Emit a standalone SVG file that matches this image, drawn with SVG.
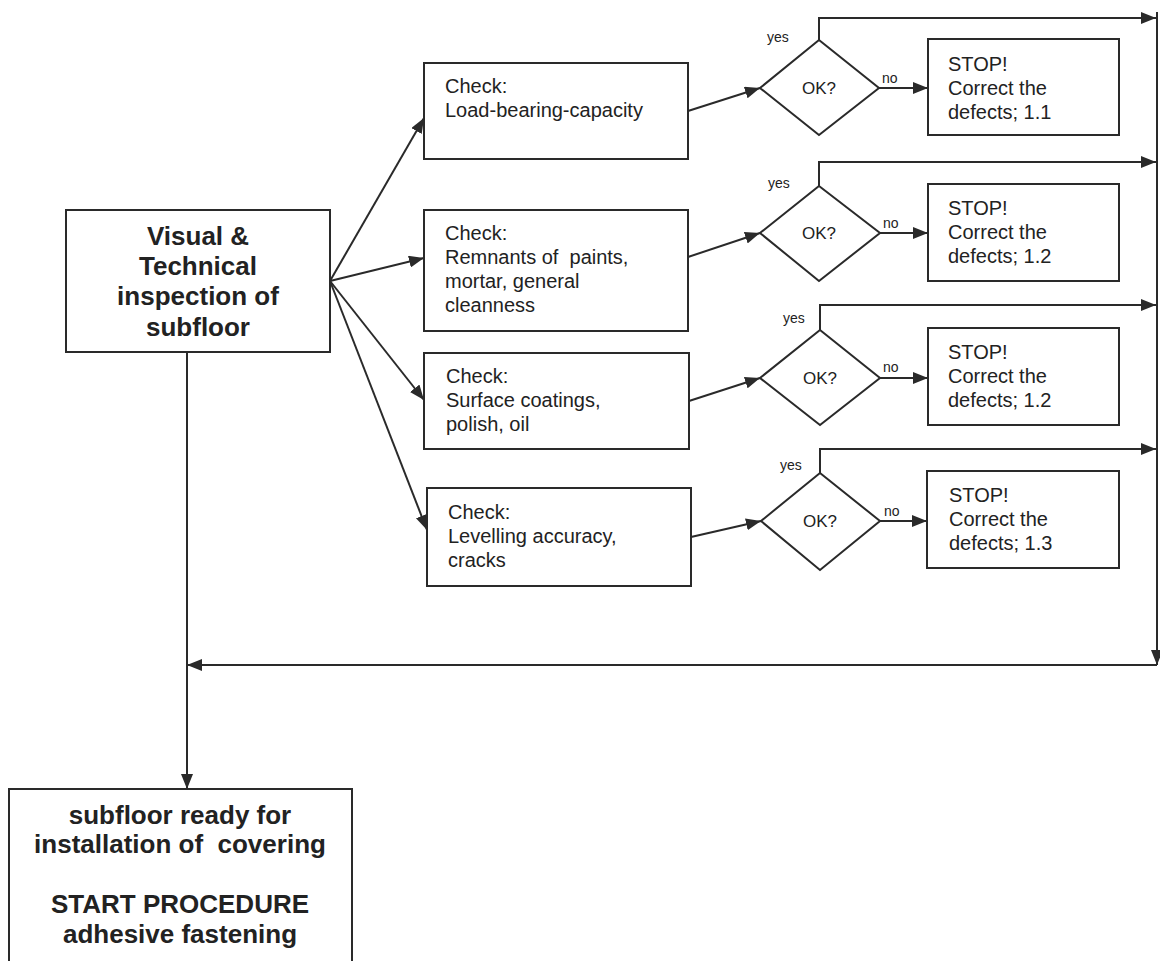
<svg xmlns="http://www.w3.org/2000/svg" width="1160" height="961" viewBox="0 0 1160 961">
<style>
.box{fill:#fff;stroke:#2a2a2a;stroke-width:2}
.ln{fill:none;stroke:#2a2a2a;stroke-width:2}
.t{font-family:"Liberation Sans",Arial,sans-serif;font-size:20px;fill:#222;white-space:pre}
.b{font-family:"Liberation Sans",Arial,sans-serif;font-size:26px;font-weight:bold;fill:#222;text-anchor:middle;white-space:pre}
.s{font-family:"Liberation Sans",Arial,sans-serif;font-size:14px;fill:#222}
.ok{font-family:"Liberation Sans",Arial,sans-serif;font-size:17px;fill:#222;text-anchor:middle}
</style>
<defs>
<marker id="ah" markerUnits="userSpaceOnUse" markerWidth="16" markerHeight="12" refX="15" refY="6" orient="auto">
<path d="M0,0 L15,6 L0,12 z" fill="#2a2a2a"/>
</marker>
</defs>
<rect width="1160" height="961" fill="#fff"/>

<g id="connectors">
<path class="ln" d="M330,281 L424,118" marker-end="url(#ah)"/>
<path class="ln" d="M330,281 L424,258" marker-end="url(#ah)"/>
<path class="ln" d="M330,281 L424,400" marker-end="url(#ah)"/>
<path class="ln" d="M330,281 L427,530" marker-end="url(#ah)"/>
<path class="ln" d="M688,111 L760,88" marker-end="url(#ah)"/>
<path class="ln" d="M688,257 L760,233" marker-end="url(#ah)"/>
<path class="ln" d="M689,401 L760,378" marker-end="url(#ah)"/>
<path class="ln" d="M691,537 L761,521" marker-end="url(#ah)"/>
<path class="ln" d="M879,88 L928,88" marker-end="url(#ah)"/>
<path class="ln" d="M880,233 L928,233" marker-end="url(#ah)"/>
<path class="ln" d="M880,378 L928,378" marker-end="url(#ah)"/>
<path class="ln" d="M880,521 L927,521" marker-end="url(#ah)"/>
<path class="ln" d="M819,40 V18 H1156" marker-end="url(#ah)"/>
<path class="ln" d="M819,186 V162 H1156" marker-end="url(#ah)"/>
<path class="ln" d="M820,330 V305 H1156" marker-end="url(#ah)"/>
<path class="ln" d="M820,473 V449 H1156" marker-end="url(#ah)"/>
<path class="ln" d="M1157,12 V665" marker-end="url(#ah)"/>
<path class="ln" d="M1157,665 H187" marker-end="url(#ah)"/>
<path class="ln" d="M187,352 V789" marker-end="url(#ah)"/>
<text class="s" x="767" y="42">yes</text>
<text class="s" x="768" y="188">yes</text>
<text class="s" x="783" y="323">yes</text>
<text class="s" x="780" y="470">yes</text>
<text class="s" x="882" y="83">no</text>
<text class="s" x="883" y="228">no</text>
<text class="s" x="883" y="372">no</text>
<text class="s" x="884" y="516">no</text>
</g>

<g id="main">
<rect class="box" x="66" y="210" width="264" height="142"/>
<text class="b" x="198" y="245">Visual &amp;</text>
<text class="b" x="198" y="275">Technical</text>
<text class="b" x="198" y="305">inspection of</text>
<text class="b" x="198" y="336">subfloor</text>
</g>

<g id="check1">
<rect class="box" x="424" y="63" width="264" height="96"/>
<text class="t" x="445" y="93">Check:</text>
<text class="t" x="445" y="117">Load-bearing-capacity</text>
</g>
<g id="check2">
<rect class="box" x="424" y="210" width="264" height="121"/>
<text class="t" x="445" y="240">Check:</text>
<text class="t" x="445" y="264">Remnants of  paints,</text>
<text class="t" x="445" y="288">mortar, general</text>
<text class="t" x="445" y="312">cleanness</text>
</g>
<g id="check3">
<rect class="box" x="424" y="353" width="265" height="96"/>
<text class="t" x="446" y="383">Check:</text>
<text class="t" x="446" y="407">Surface coatings,</text>
<text class="t" x="446" y="431">polish, oil</text>
</g>
<g id="check4">
<rect class="box" x="427" y="488" width="264" height="98"/>
<text class="t" x="448" y="519">Check:</text>
<text class="t" x="448" y="543">Levelling accuracy,</text>
<text class="t" x="448" y="567">cracks</text>
</g>

<g id="ok1">
<path class="box" d="M819,40 L879,88 L819,135 L760,88 z"/>
<text class="ok" x="819" y="94">OK?</text>
</g>
<g id="ok2">
<path class="box" d="M819,186 L880,233 L819,281 L760,233 z"/>
<text class="ok" x="819" y="239">OK?</text>
</g>
<g id="ok3">
<path class="box" d="M820,330 L880,378 L820,425 L760,378 z"/>
<text class="ok" x="820" y="384">OK?</text>
</g>
<g id="ok4">
<path class="box" d="M820,473 L880,521 L820,570 L761,521 z"/>
<text class="ok" x="820" y="527">OK?</text>
</g>

<g id="stop1">
<rect class="box" x="928" y="39" width="191" height="96"/>
<text class="t" x="948" y="71">STOP!</text>
<text class="t" x="948" y="95">Correct the</text>
<text class="t" x="948" y="119">defects; 1.1</text>
</g>
<g id="stop2">
<rect class="box" x="928" y="184" width="191" height="97"/>
<text class="t" x="948" y="215">STOP!</text>
<text class="t" x="948" y="239">Correct the</text>
<text class="t" x="948" y="263">defects; 1.2</text>
</g>
<g id="stop3">
<rect class="box" x="928" y="328" width="191" height="97"/>
<text class="t" x="948" y="359">STOP!</text>
<text class="t" x="948" y="383">Correct the</text>
<text class="t" x="948" y="407">defects; 1.2</text>
</g>
<g id="stop4">
<rect class="box" x="927" y="471" width="192" height="97"/>
<text class="t" x="949" y="502">STOP!</text>
<text class="t" x="949" y="526">Correct the</text>
<text class="t" x="949" y="550">defects; 1.3</text>
</g>

<g id="ready">
<path class="ln" d="M9,975 V789 H352 V975"/>
<text class="b" x="180" y="824">subfloor ready for</text>
<text class="b" x="180" y="853">installation of  covering</text>
<text class="b" x="180" y="913">START PROCEDURE</text>
<text class="b" x="180" y="943">adhesive fastening</text>
</g>
</svg>
